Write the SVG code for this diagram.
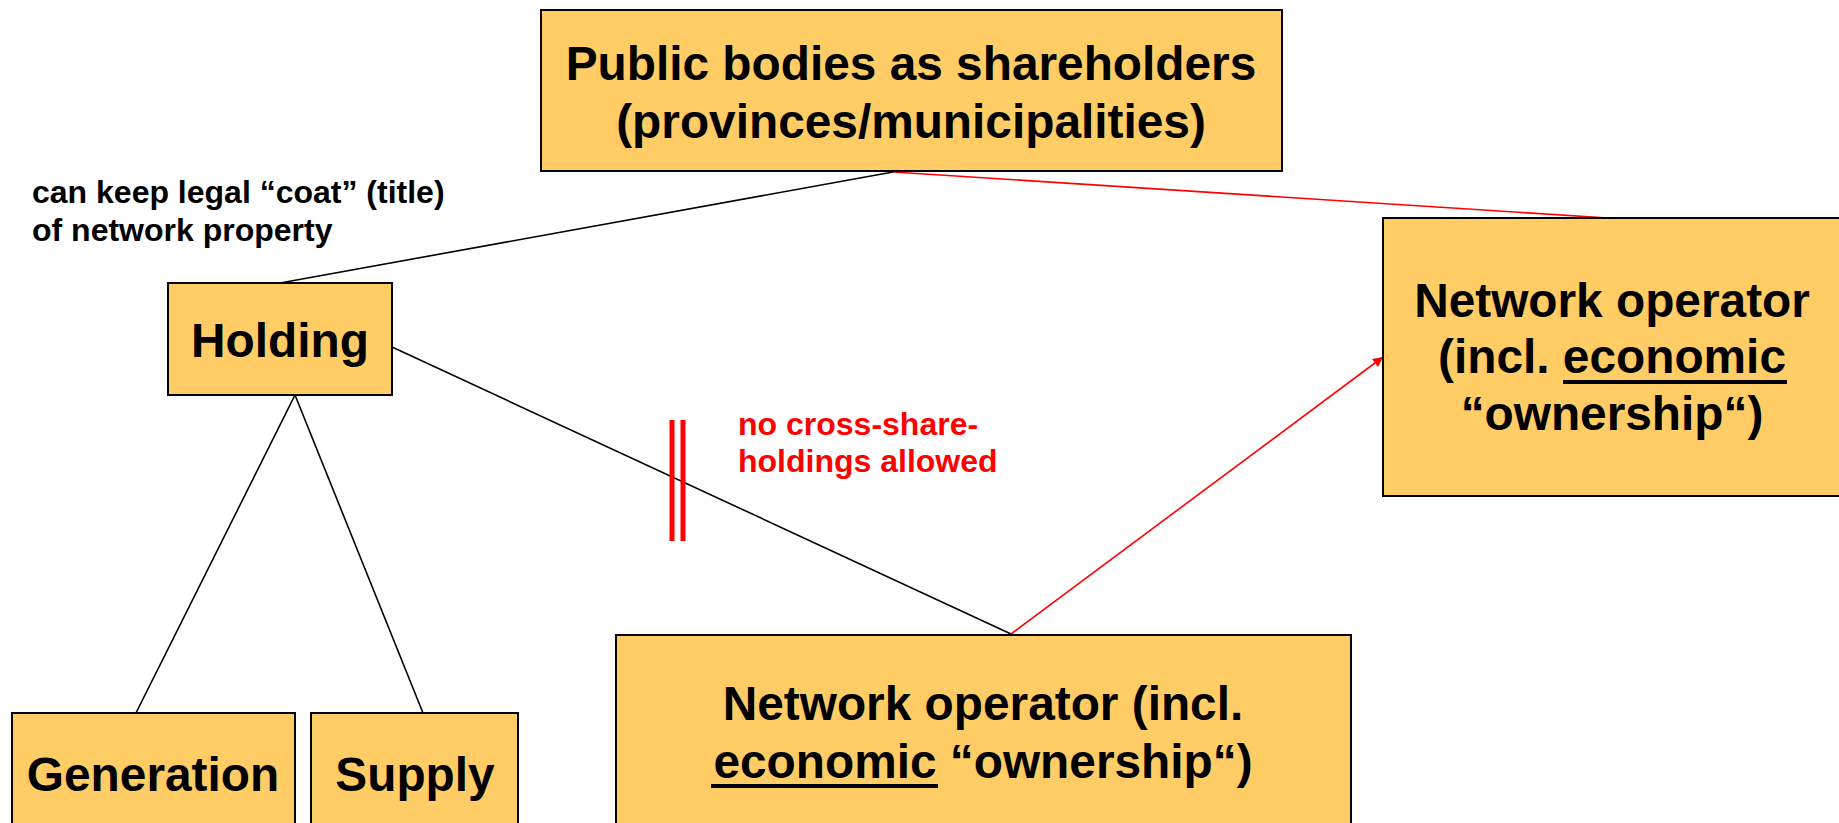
<svg xmlns="http://www.w3.org/2000/svg" width="1839" height="823" viewBox="0 0 1839 823">
  <style>
    .box { fill: #FFCC66; stroke: #000; stroke-width: 2; }
    .t { font-family: "Liberation Sans", Arial, sans-serif; font-weight: bold; fill: #000; }
    .big { font-size: 47.8px; text-anchor: middle; }
    .small { font-size: 32px; }
    .red { fill: #FF0000; }
    .link { stroke: #000; stroke-width: 1.6; fill: none; }
    .rlink { stroke: #FF0000; stroke-width: 1.6; fill: none; }
    .ul { stroke: #000; stroke-width: 4; }
  </style>
  <defs>
    <marker id="arrowRed" viewBox="0 0 10 10" refX="10" refY="5" markerWidth="14" markerHeight="10" markerUnits="userSpaceOnUse" orient="auto">
      <path d="M0,0 L10,5 L0,10 z" fill="#FF0000"/>
    </marker>
  </defs>
  <rect width="1839" height="823" fill="#fff"/>

  <!-- connectors -->
  <g id="connectors">
    <line class="link" x1="893" y1="172" x2="280" y2="283"/>
    <line class="rlink" x1="893" y1="172" x2="1608" y2="218"/>
    <line class="link" x1="392" y1="347" x2="1011" y2="634"/>
    <line class="link" x1="295" y1="395" x2="136" y2="713"/>
    <line class="link" x1="295" y1="395" x2="423" y2="713"/>
    <line class="rlink" x1="1011" y1="634" x2="1383" y2="357" marker-end="url(#arrowRed)"/>
    <!-- barrier marks across the holding / operator link -->
    <line x1="672" y1="420" x2="672" y2="541" stroke="#FF0000" stroke-width="5"/>
    <line x1="683" y1="420" x2="683" y2="541" stroke="#FF0000" stroke-width="5"/>
  </g>

  <g id="public-bodies">
    <rect class="box" x="541" y="10" width="741" height="161"/>
    <text class="t big" x="911" y="80">Public bodies as shareholders</text>
    <text class="t big" x="911" y="138">(provinces/municipalities)</text>
  </g>

  <g id="holding">
    <rect class="box" x="168" y="283" width="224" height="112"/>
    <text class="t big" x="280" y="357">Holding</text>
  </g>

  <g id="generation">
    <rect class="box" x="12" y="713" width="283" height="130"/>
    <text class="t big" x="153" y="791">Generation</text>
  </g>

  <g id="supply">
    <rect class="box" x="311" y="713" width="207" height="130"/>
    <text class="t big" x="415" y="791">Supply</text>
  </g>

  <g id="operator-right">
    <rect class="box" x="1383" y="218" width="470" height="278"/>
    <text class="t big" x="1612" y="317">Network operator</text>
    <text class="t big" x="1612" y="373">(incl. economic</text>
    <line class="ul" x1="1563" y1="382" x2="1787" y2="382"/>
    <text class="t big" x="1612" y="430">“ownership“)</text>
  </g>

  <g id="operator-bottom">
    <rect class="box" x="616" y="635" width="735" height="210"/>
    <text class="t big" x="983" y="720">Network operator (incl.</text>
    <text class="t big" x="983" y="778">economic “ownership“)</text>
    <line class="ul" x1="711" y1="786" x2="938" y2="786"/>
  </g>

  <g id="label-title">
    <text class="t small" x="32" y="203">can keep legal “coat” (title)</text>
    <text class="t small" x="32" y="241">of network property</text>
  </g>

  <g id="label-cross">
    <text class="t small red" x="738" y="435">no cross-share-</text>
    <text class="t small red" x="738" y="472">holdings allowed</text>
  </g>
</svg>
